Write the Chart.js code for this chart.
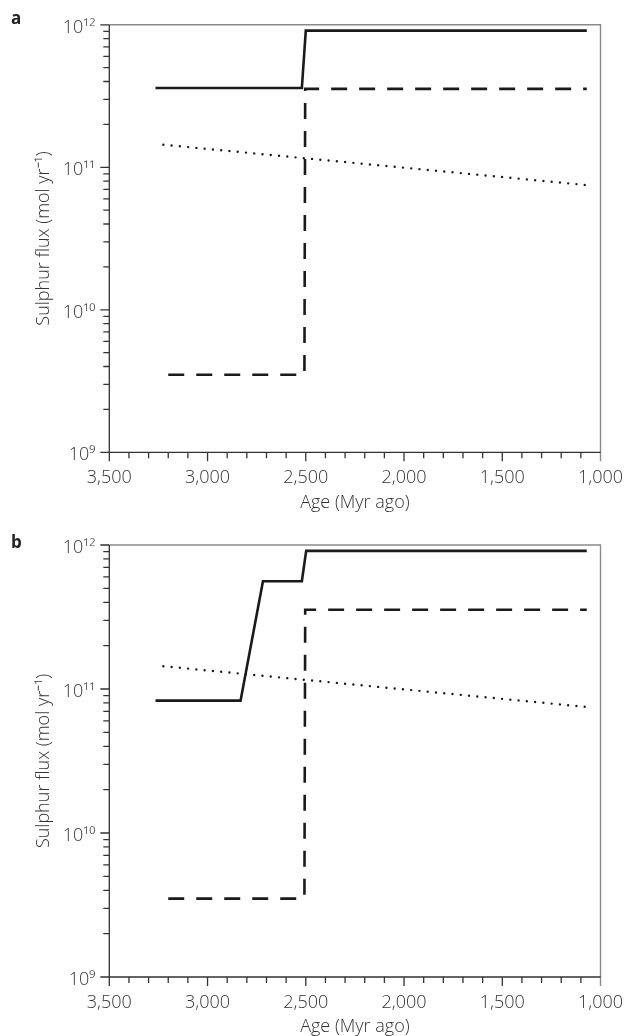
<!DOCTYPE html>
<html>
<head>
<meta charset="utf-8">
<script src="https://cdn.jsdelivr.net/npm/chart.js@4/dist/chart.umd.min.js"></script>
<style>
  body { margin: 0; background: #fff; }
  #wrap { position: relative; width: 638px; height: 1036px; }
  canvas { position: absolute; left: 0; }
  .panel { position: absolute; left: 11px; font: bold 17px 'Open Sans', sans-serif; line-height: 17px; color: #222; }
</style>
</head>
<body>
<div id="wrap">
  <canvas id="chartA" width="638" height="518" style="top:0"></canvas>
  <canvas id="chartB" width="638" height="518" style="top:518px"></canvas>
  <div class="panel" style="top:9px">a</div>
  <div class="panel" style="top:533px">b</div>
</div>
<script>
var ageMin = 1000, ageMax = 3500;
var ageStep = 100;
var yDecades = [1e9, 1e10, 1e11, 1e12];
var yMultipliers = [1, 2, 3, 4, 5, 6, 7, 8, 9];
var supLabels = { 9: '10⁹', 10: '10¹⁰', 11: '10¹¹', 12: '10¹²' };

// panel a, solid
var solidAgeA = [3265, 2520, 2500, 1070];
var solidFluxA = [3.6e11, 3.6e11, 9.1e11, 9.1e11];
// panel b, solid
var solidAgeB = [3265, 2832, 2718, 2520, 2498, 1070];
var solidFluxB = [8.3e10, 8.3e10, 5.6e11, 5.6e11, 9.1e11, 9.1e11];
// dashed (same in both panels)
var dashedAge = [3200, 2507, 2503, 1070];
var dashedFlux = [3.5e9, 3.5e9, 3.55e11, 3.55e11];
// dotted (same in both panels)
var dottedAge = [3225, 1070];
var dottedFlux = [1.44e11, 7.5e10];

var font = "'Open Sans', sans-serif";
var textColor = '#333';

function toPoints(ages, flux) {
	return ages.map(function(a, i) { return { x: a, y: flux[i] }; });
}

function yTickValues() {
	var vals = [];
	yDecades.forEach(function(d, i) {
		if (i == yDecades.length - 1) { vals.push(d); return; }
		yMultipliers.forEach(function(m) { vals.push(m * d); });
	});
	return vals;
}

function isPow10(v) {
	var e = Math.log10(v);
	return Math.abs(e - Math.round(e)) < 1e-9;
}

var frameTicks = {
	id: 'frameTicks',
	afterDraw: function(chart) {
		var ctx = chart.ctx, a = chart.chartArea;
		var x = chart.scales.x, y = chart.scales.y;
		ctx.save();
		// top and right frame
		ctx.strokeStyle = '#8a8a8a';
		ctx.lineWidth = 1.4;
		ctx.beginPath();
		ctx.moveTo(a.left, a.top);
		ctx.lineTo(a.right, a.top);
		ctx.lineTo(a.right, a.bottom + 9);
		ctx.stroke();
		// left and bottom axis
		ctx.strokeStyle = '#333';
		ctx.lineWidth = 1.3;
		ctx.beginPath();
		ctx.moveTo(a.left, a.top);
		ctx.lineTo(a.left, a.bottom);
		ctx.lineTo(a.right, a.bottom);
		y.ticks.forEach(function(t) {
			var py = y.getPixelForValue(t.value);
			var len = isPow10(t.value) ? 9 : 6;
			ctx.moveTo(a.left - len, py);
			ctx.lineTo(a.left, py);
		});
		x.ticks.forEach(function(t) {
			if (t.value == ageMin) return;
			var px = x.getPixelForValue(t.value);
			var len = t.value % 500 == 0 ? 9 : 6;
			ctx.moveTo(px, a.bottom);
			ctx.lineTo(px, a.bottom + len);
		});
		ctx.stroke();
		ctx.restore();
	}
};

function renderChart(id, solidAge, solidFlux, pad, xHeight, titleBottom) {
	var options = {
		type: 'scatter',
		data: {
			datasets: [{
				data: toPoints(solidAge, solidFlux),
				showLine: true,
				borderColor: '#1a1a1a',
				borderWidth: 2.6,
				pointRadius: 0
			}, {
				data: toPoints(dashedAge, dashedFlux),
				showLine: true,
				borderColor: '#1a1a1a',
				borderWidth: 2.6,
				borderDash: [16, 12],
				pointRadius: 0
			}, {
				data: toPoints(dottedAge, dottedFlux),
				showLine: true,
				borderColor: '#1a1a1a',
				borderWidth: 2.4,
				borderDash: [0, 8.3],
				borderCapStyle: 'round',
				pointRadius: 0
			}]
		},
		options: {
			responsive: false,
			animation: false,
			devicePixelRatio: 1,
			layout: { padding: pad },
			scales: {
				x: {
					type: 'linear',
					min: ageMin,
					max: ageMax,
					reverse: true,
					grid: { display: false, drawTicks: false },
					border: { display: false },
					ticks: {
						stepSize: ageStep,
						autoSkip: false,
						maxRotation: 0,
						padding: 15,
						color: textColor,
						font: { family: font, size: 18, weight: 300 },
						callback: function(v) {
							return v % 500 == 0 ? v.toLocaleString('en-US') : '';
						}
					},
					title: {
						display: true,
						text: 'Age (Myr ago)',
						color: textColor,
						font: { family: font, size: 18, weight: 300, lineHeight: 1 },
						padding: { top: 0, bottom: titleBottom }
					},
					afterFit: function(scale) { scale.height = xHeight; }
				},
				y: {
					type: 'logarithmic',
					min: 1e9,
					max: 1e12,
					grid: { display: false, drawTicks: false },
					border: { display: false },
					afterBuildTicks: function(scale) {
						scale.ticks = yTickValues().map(function(v) { return { value: v }; });
					},
					ticks: {
						autoSkip: false,
						padding: 14,
						labelOffset: 3,
						color: textColor,
						font: { family: font, size: 18, weight: 300 },
						callback: function(v) {
							return isPow10(v) ? supLabels[Math.round(Math.log10(v))] : '';
						}
					},
					title: {
						display: true,
						text: 'Sulphur flux (mol yr⁻¹)',
						color: textColor,
						font: { family: font, size: 18, weight: 300 },
						padding: { top: 32.8, bottom: 0 }
					},
					afterFit: function(scale) { scale.width = 109.3; }
				}
			},
			plugins: {
				legend: { display: false },
				tooltip: { enabled: false }
			}
		},
		plugins: [frameTicks]
	};
	new Chart(document.getElementById(id), options);
}

renderChart('chartA', solidAgeA, solidFluxA, { top: 20.7, right: 25.3, left: 0, bottom: 0 }, 65.7, 6);
renderChart('chartB', solidAgeB, solidFluxB, { top: 27, right: 25.3, left: 0, bottom: 0 }, 59, 0);
</script>
</body>
</html>
